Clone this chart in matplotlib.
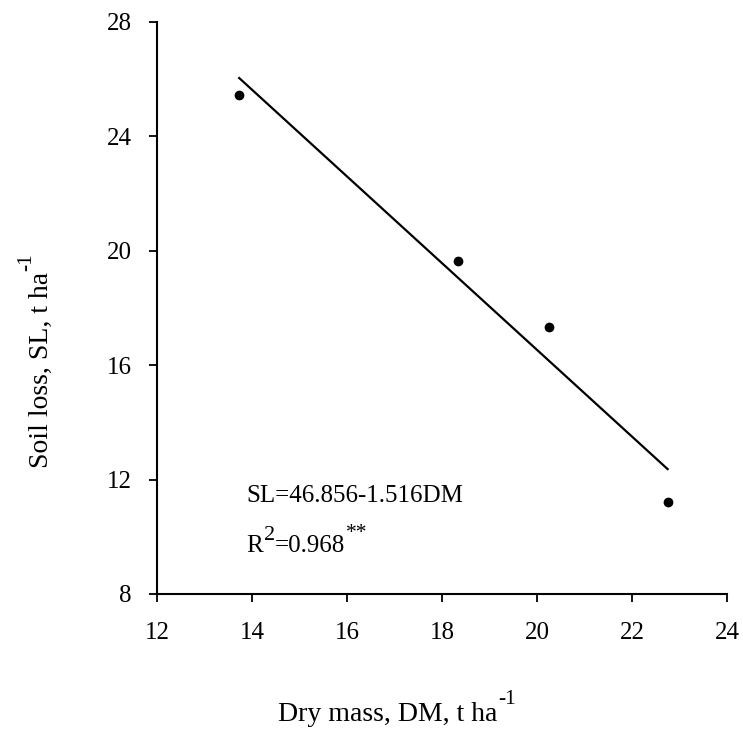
import numpy as np
import matplotlib.pyplot as plt

plt.rcParams['font.family'] = 'Liberation Serif'

# observed points
dm = [13.73, 18.33, 20.25, 22.75]
sl = [25.45, 19.65, 17.35, 11.22]

# fitted line SL = a + b*DM
a, b = 46.856, -1.516

xticks = [12, 14, 16, 18, 20, 22, 24]
yticks = [8, 12, 16, 20, 24, 28]

fig = plt.figure(figsize=(7.43, 7.33), dpi=100)
ax = fig.add_axes([157/743, 1 - 594/733, 570/743, 572/733])

ax.plot(dm, sl, 'o', color='black', markersize=6)
xf = np.array([min(dm), max(dm)])
ax.plot(xf, a + b*xf, '-', color='black', linewidth=1.6)

ax.set_xlim(12, 24)
ax.set_ylim(8, 28)
ax.set_xticks(xticks)
ax.set_yticks(yticks)
ax.tick_params(direction='out', length=6, width=1.3, labelsize=18, pad=12)
ax.tick_params(axis='x', pad=14)
for s in ['top', 'right']:
    ax.spines[s].set_visible(False)
for s in ['left', 'bottom']:
    ax.spines[s].set_linewidth(1.5)

fig.canvas.draw()
r = fig.canvas.get_renderer()
inv = fig.transFigure.inverted()


def sup(t, s, rise, rot=0):
    # put a raised small text right after text t (in pixels)
    bb = t.get_window_extent(r)
    if rot == 0:
        fx, fy = inv.transform((bb.x1 + 1, bb.y0 + rise))
        fig.text(fx, fy, s, fontsize=15.5, ha='left', va='bottom')
    else:
        fx, fy = inv.transform((bb.x1 - rise, bb.y1 + 1))
        fig.text(fx, fy, s, fontsize=15.5, ha='right', va='bottom', rotation=90)


t1 = ax.text(13.88, 11.22, 'SL=46.856-1.516DM', fontsize=18, va='baseline')
t2 = ax.text(13.88, 9.47, 'R', fontsize=18, va='baseline')
fig.canvas.draw()
bb = t2.get_window_extent(r)
t3 = fig.text(*inv.transform((bb.x1 + 12, bb.y0)), '=0.968', fontsize=18,
              ha='left', va='bottom')
fig.text(*inv.transform((bb.x1 + 1, bb.y0 + 12)), '2', fontsize=16,
         ha='left', va='bottom')
fig.canvas.draw()
sup(t3, '**', 14)

xl = fig.text(278/743, 1 - 727/733, 'Dry mass, DM, t ha', fontsize=20,
              ha='left', va='bottom')
yl = fig.text(29/743, 1 - 468/733, 'Soil loss, SL, t ha', fontsize=20,
              ha='left', va='bottom', rotation=90)
fig.canvas.draw()
sup(xl, '-1', 18)
sup(yl, '-1', 18, rot=90)

fig.savefig('out.png', dpi=100)
